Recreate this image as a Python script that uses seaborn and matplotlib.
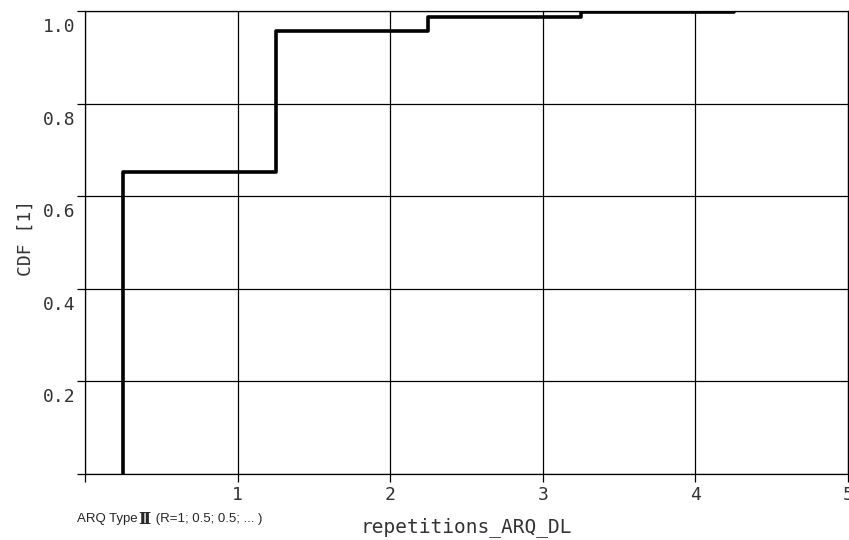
import matplotlib
matplotlib.use("Agg")
import matplotlib.pyplot as plt
import matplotlib.transforms as mtrans
import seaborn as sns
import pandas as pd

# Data
repetitions = [0.25, 0.25, 1.25, 2.25, 3.25, 4.25]
cdf_values = [0.0, 0.653, 0.956, 0.988, 0.997, 0.997]
x_ticks = [0, 1, 2, 3, 4, 5]
x_tick_labels = ["", "1", "2", "3", "4", "5"]
y_ticks = [0.0, 0.2, 0.4, 0.6, 0.8, 1.0]
y_tick_labels = ["", "0.2", "0.4", "0.6", "0.8", "1.0"]

df = pd.DataFrame({"repetitions_ARQ_DL": repetitions, "CDF": cdf_values})

sns.set_style("white")
plt.rcParams["font.family"] = ["DejaVu Sans Mono", "DejaVu Sans"]

fig = plt.figure(figsize=(8.49, 5.40), dpi=100)
ax = fig.add_axes([85 / 849, 66 / 540, 763 / 849, 463 / 540])

sns.lineplot(data=df, x="repetitions_ARQ_DL", y="CDF", ax=ax,
             estimator=None, sort=False, drawstyle="steps-post",
             color="black", linewidth=2.6, zorder=5)

ax.set_xlim(0, 5)
ax.set_ylim(0, 1.0)
ax.set_xticks(x_ticks)
ax.set_xticklabels(x_tick_labels)
ax.set_yticks(y_ticks)
ax.set_yticklabels(y_tick_labels)

ax.grid(True, color="black", linewidth=0.9)
ax.set_axisbelow(True)
for side in ["left", "bottom", "top", "right"]:
    ax.spines[side].set_visible(True)
    ax.spines[side].set_color("black")
    ax.spines[side].set_linewidth(0.9)

ax.tick_params(axis="both", direction="out", length=6, width=0.9,
               color="black", labelcolor="#333333", labelsize=13,
               bottom=True, left=True)
ax.tick_params(axis="x", pad=3)
ax.tick_params(axis="y", pad=1)

offset = mtrans.ScaledTranslation(0, -7 / 100, fig.dpi_scale_trans)
for lab in ax.get_yticklabels():
    lab.set_va("top")
    lab.set_transform(lab.get_transform() + offset)

ax.set_xlabel("repetitions_ARQ_DL", fontsize=14, color="#333333", labelpad=9)
ax.set_ylabel("CDF [1]", fontsize=13, color="#333333", labelpad=2)
ax.yaxis.set_label_coords(-0.066, 0.51)

# Footnote text, placed piece by piece
ty = 1 - 519 / 540
renderer = fig.canvas.get_renderer()
parts = [("ARQ Type", 9.5, dict(family=["Liberation Sans", "DejaVu Sans"])),
         ("Ⅱ", 12, dict(family=["DejaVu Serif", "DejaVu Sans"], fontweight="bold")),
         (" (R=1; 0.5; 0.5; ... )", 9.5, dict(family=["Liberation Sans", "DejaVu Sans"]))]
xpix = 77
for txt, fs, kw in parts:
    t = fig.text(xpix / 849, ty, txt, fontsize=fs, va="center", ha="left", **kw)
    bb = t.get_window_extent(renderer=renderer)
    xpix = bb.x1 + 1

fig.savefig("out.png", dpi=100)
